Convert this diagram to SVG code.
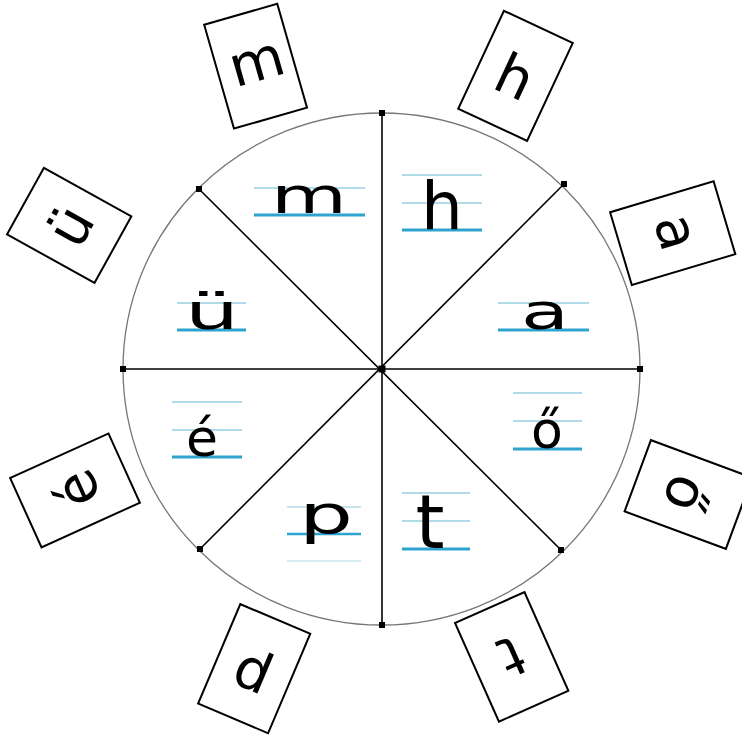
<svg xmlns="http://www.w3.org/2000/svg" width="742" height="735" viewBox="0 0 742 735">
<defs>
<style>
.card rect{fill:#fff;stroke:#000;stroke-width:2}
.card text{font-family:"DejaVu Sans",sans-serif;font-size:56px;text-anchor:middle;fill:#000}
.lt{stroke:#97cfe0;stroke-width:1.5}
.bl{stroke:#2ea3cf;stroke-width:3}
.cur{font-family:"DejaVu Sans",sans-serif;font-size:50px;text-anchor:middle;fill:#000}
.spoke{stroke:#000;stroke-width:1.6}
.dot{fill:#000}
</style>
</defs>
<rect width="742" height="735" fill="#fff"/>
<ellipse cx="381.5" cy="369" rx="258.5" ry="256" fill="none" stroke="#777" stroke-width="1.3"/>
<g id="connectors">
<line class="spoke" x1="382" y1="113" x2="382" y2="625"/>
<line class="spoke" x1="123" y1="369" x2="640" y2="369"/>
<line class="spoke" x1="199" y1="189" x2="561" y2="550"/>
<line class="spoke" x1="564" y1="184" x2="200" y2="549"/>
<rect class="dot" x="379" y="110" width="6" height="6"/>
<rect class="dot" x="379" y="622" width="6" height="6"/>
<rect class="dot" x="120" y="366" width="6" height="6"/>
<rect class="dot" x="637" y="366" width="6" height="6"/>
<rect class="dot" x="196" y="186" width="6" height="6"/>
<rect class="dot" x="561" y="181" width="6" height="6"/>
<rect class="dot" x="197" y="546" width="6" height="6"/>
<rect class="dot" x="558" y="547" width="6" height="6"/>
<rect class="dot" x="378.5" y="365.5" width="7" height="7"/>
</g>
<g id="sector-m">
<line class="lt" x1="254" y1="188" x2="365" y2="188"/>
<line class="bl" x1="254" y1="215" x2="365" y2="215"/>
<text class="cur" x="309" y="213" textLength="76" lengthAdjust="spacingAndGlyphs">m</text>
</g>
<g id="sector-h">
<line class="lt" x1="402" y1="175" x2="482" y2="175"/>
<line class="lt" x1="402" y1="203" x2="482" y2="203"/>
<line class="bl" x1="402" y1="230" x2="482" y2="230"/>
<text class="cur" x="442" y="229" style="font-size:66px">h</text>
</g>
<g id="sector-a">
<line class="lt" x1="498" y1="303" x2="589" y2="303"/>
<line class="bl" x1="498" y1="330" x2="589" y2="330"/>
<text class="cur" x="545" y="329" textLength="48" lengthAdjust="spacingAndGlyphs">a</text>
</g>
<g id="sector-o">
<line class="lt" x1="513" y1="393" x2="582" y2="393"/>
<line class="lt" x1="513" y1="421" x2="582" y2="421"/>
<line class="bl" x1="513" y1="449" x2="582" y2="449"/>
<text class="cur" x="547" y="448" style="font-size:52px">ő</text>
</g>
<g id="sector-t">
<line class="lt" x1="402" y1="493" x2="470" y2="493"/>
<line class="lt" x1="402" y1="521" x2="470" y2="521"/>
<line class="bl" x1="402" y1="549" x2="470" y2="549"/>
<text class="cur" x="430" y="548" style="font-size:74px">t</text>
</g>
<g id="sector-p">
<line class="lt" x1="287" y1="507" x2="361" y2="507" stroke-opacity="0.7"/>
<line class="bl" x1="287" y1="534" x2="361" y2="534" style="stroke-width:2.5"/>
<line class="lt" x1="287" y1="561" x2="361" y2="561" stroke-opacity="0.5"/>
<text class="cur" x="326" y="533" style="font-size:54px" textLength="54" lengthAdjust="spacingAndGlyphs">p</text>
</g>
<g id="sector-e">
<line class="lt" x1="172" y1="402" x2="242" y2="402"/>
<line class="lt" x1="172" y1="430" x2="242" y2="430"/>
<line class="bl" x1="172" y1="457" x2="242" y2="457"/>
<text class="cur" x="202" y="456" style="font-size:52px">é</text>
</g>
<g id="sector-u">
<line class="lt" x1="177" y1="303" x2="246" y2="303"/>
<line class="bl" x1="177" y1="330" x2="246" y2="330"/>
<text class="cur" x="212" y="329" textLength="54" lengthAdjust="spacingAndGlyphs">ü</text>
</g>
<g id="card-m" class="card" transform="translate(255.6,66.2) rotate(-16)">
<rect x="-38" y="-54" width="76" height="108"/>
<text x="2" y="15">m</text>
</g>
<g id="card-h" class="card" transform="translate(515.5,75.8) rotate(25)">
<rect x="-38" y="-54" width="76" height="108"/>
<text x="0" y="21">h</text>
</g>
<g id="card-a" class="card" transform="translate(672.7,233.2) rotate(73.4)">
<rect x="-38" y="-54" width="76" height="108"/>
<text x="0" y="15">a</text>
</g>
<g id="card-o" class="card" transform="translate(688.4,494.5) rotate(110.3)">
<rect x="-38" y="-54" width="76" height="108"/>
<text x="0" y="22">ő</text>
</g>
<g id="card-t" class="card" transform="translate(511.7,656.9) rotate(156)">
<rect x="-38" y="-54" width="76" height="108"/>
<text x="0" y="20">t</text>
</g>
<g id="card-p" class="card" transform="translate(254.2,668.7) rotate(203)">
<rect x="-38" y="-54" width="76" height="108"/>
<text x="0" y="9">p</text>
</g>
<g id="card-e" class="card" transform="translate(75,490.4) rotate(-114.4)">
<rect x="-38" y="-54" width="76" height="108"/>
<text x="0" y="22">é</text>
</g>
<g id="card-u" class="card" transform="translate(69.2,225.4) rotate(-61)">
<rect x="-38" y="-50" width="76" height="100"/>
<text x="0" y="21">ü</text>
</g>
</svg>
